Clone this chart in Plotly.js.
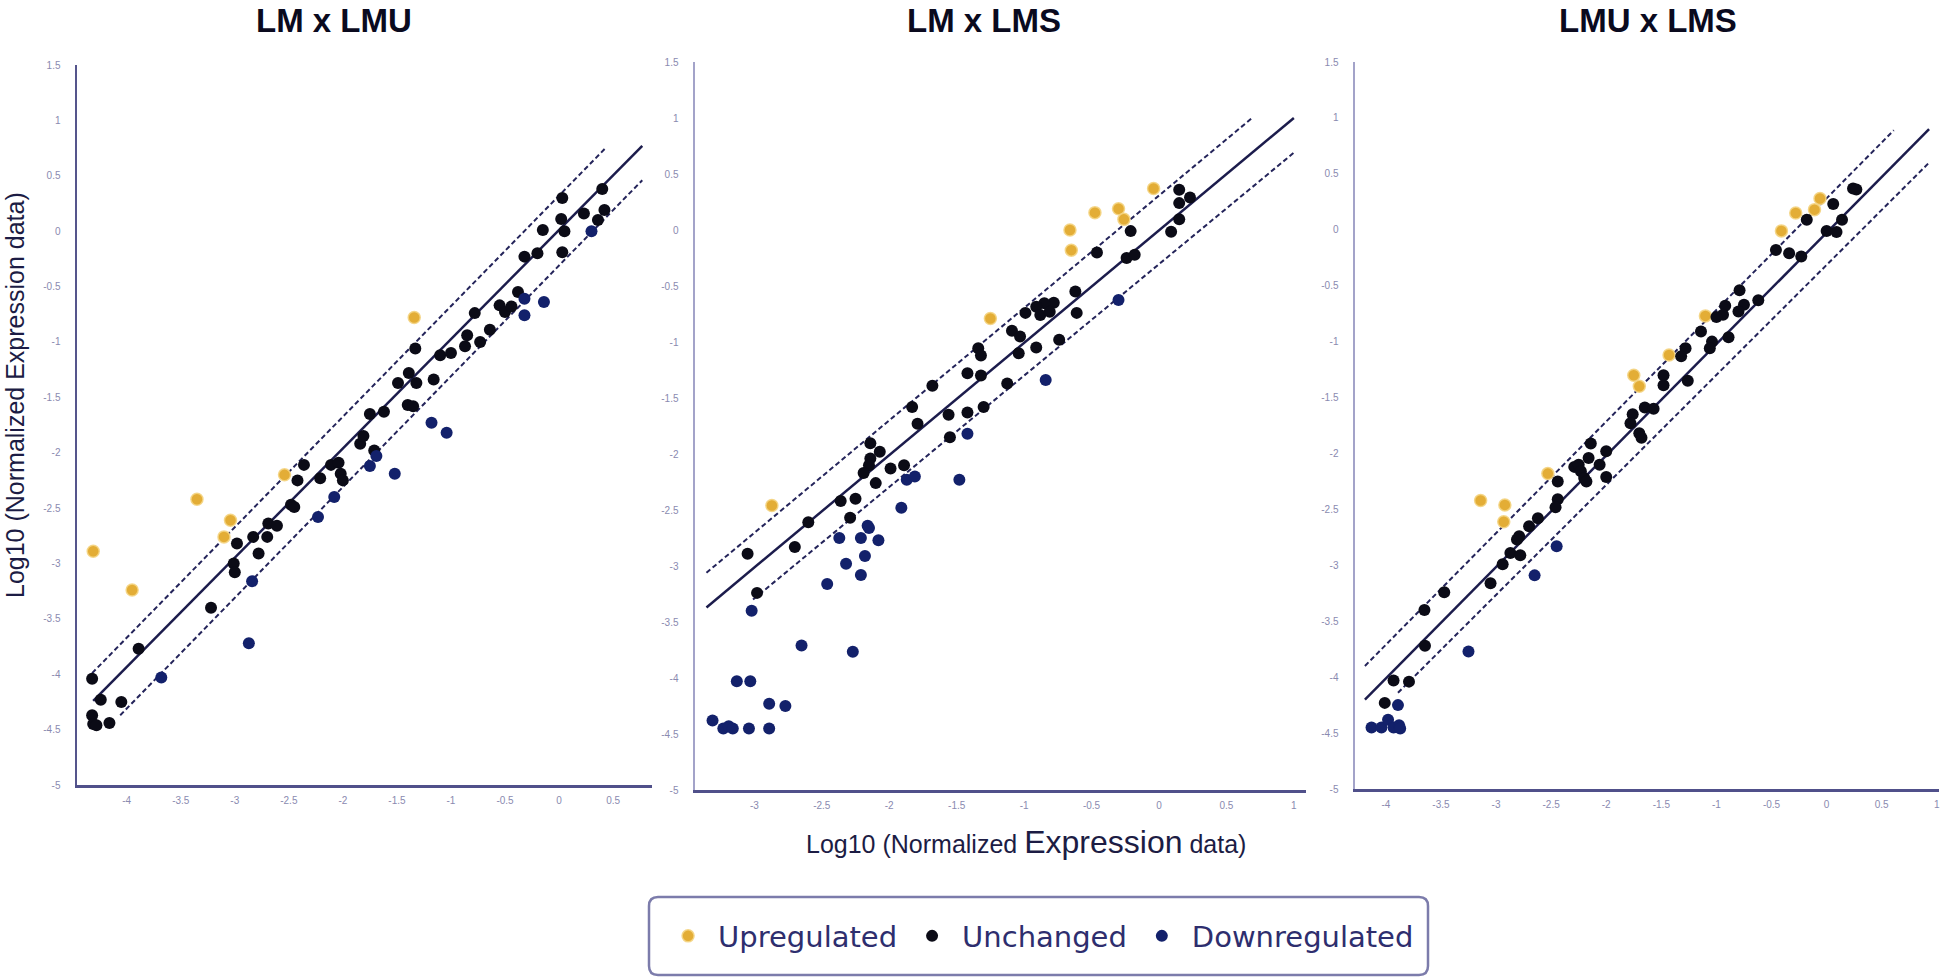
<!DOCTYPE html>
<html>
<head>
<meta charset="utf-8">
<script src="https://cdn.plot.ly/plotly-3.0.1.min.js"></script>
<style>
  html, body { margin: 0; padding: 0; background: #ffffff; }
  #chart { width: 1946px; height: 979px; }
</style>
</head>
<body>
<div id="chart"></div>
<script>
// ---------- data (log10 normalized expression) ----------
const panelTitles = ["LM x LMU", "LM x LMS", "LMU x LMS"];
const categoryNames = ["Upregulated", "Unchanged", "Downregulated"];

// LM x LMU
const p1UpX = [-1.34, -4.31, -3.95, -3.35, -3.04, -3.10, -2.54];
const p1UpY = [-0.78, -2.89, -3.24, -2.42, -2.61, -2.76, -2.20];
const p1UnX = [-1.33, -1.49, -1.39, -1.32, -1.16, -1.10, -1.00, -0.87, -0.85, -0.73, -0.78, -0.64, -0.55, -0.50, -0.44, -0.38,
  -0.32, -0.20, -0.15, 0.03, 0.02, 0.05, 0.03, 0.23, 0.40, 0.42, 0.36, -1.75, -1.62, -1.40, -1.35,
  -4.32, -4.24, -4.32, -4.31, -4.28, -4.16, -4.05, -3.89, -3.22, -3.01, -3.00, -2.98, -2.83, -2.78, -2.70, -2.69,
  -2.61, -2.48, -2.45, -2.42, -2.36, -2.21, -2.11, -2.04, -2.02, -2.00, -1.84, -1.81, -1.71];
const p1UnY = [-1.06, -1.37, -1.28, -1.37, -1.34, -1.12, -1.10, -1.04, -0.94, -1.00, -0.74, -0.89, -0.67, -0.73, -0.68, -0.55,
  -0.23, -0.20, 0.01, 0.30, 0.11, 0.00, -0.19, 0.16, 0.38, 0.19, 0.10, -1.65, -1.63, -1.57, -1.58,
  -4.04, -4.23, -4.37, -4.45, -4.46, -4.44, -4.25, -3.77, -3.40, -3.00, -3.08, -2.82, -2.76, -2.91, -2.76, -2.64,
  -2.66, -2.47, -2.49, -2.25, -2.11, -2.23, -2.11, -2.09, -2.19, -2.25, -1.92, -1.85, -1.98];
const p1DnX = [-0.32, -0.14, -0.32, 0.30, -3.68, -2.84, -2.87, -2.23, -2.08, -1.69, -1.75, -1.52, -1.18, -1.04];
const p1DnY = [-0.61, -0.64, -0.76, 0.00, -4.03, -3.16, -3.72, -2.58, -2.40, -2.03, -2.12, -2.19, -1.73, -1.82];

// LM x LMS
const p2UpX = [-1.25, -0.66, -0.65, -0.475, -0.30, -0.26, -0.04, -2.87];
const p2UpY = [-0.79, 0.00, -0.18, 0.155, 0.19, 0.095, 0.37, -2.46];
const p2UnX = [-0.46, -0.21, -0.24, -0.18, 0.09, 0.15, 0.15, 0.23, 0.15, -0.62, -0.61, -0.78, -0.85, -0.91, -0.88, -0.81,
  -0.99, -0.74, -0.91, -1.09, -1.03, -1.04, -1.125, -1.34, -1.32, -1.42, -1.32, -1.68, -1.83, -1.56, -1.42, -1.30,
  -1.79, -1.55, -2.14, -2.07, -2.14, -2.15, -2.19, -2.10, -1.99, -1.89, -3.05, -2.98, -2.70, -2.60, -2.36, -2.25, -2.29];
const p2UnY = [-0.20, -0.01, -0.25, -0.22, -0.015, 0.36, 0.24, 0.29, 0.095, -0.55, -0.74, -0.65, -0.655, -0.685, -0.76, -0.73,
  -0.74, -0.98, -1.05, -0.90, -0.95, -1.10, -1.37, -1.055, -1.12, -1.28, -1.30, -1.39, -1.58, -1.65, -1.63, -1.58,
  -1.73, -1.85, -1.905, -1.98, -2.04, -2.10, -2.17, -2.26, -2.13, -2.10, -2.89, -3.24, -2.83, -2.61, -2.42, -2.40, -2.57];
const p2DnX = [-0.30, -0.84, -1.42, -1.87, -1.81, -1.48, -1.91, -3.02, -2.37, -2.21, -2.16, -2.15, -2.08, -2.18, -2.32,
  -2.21, -2.46, -2.65, -2.27, -3.13, -3.03, -2.89, -2.77, -3.31, -3.23, -3.19, -3.16, -3.04, -2.89];
const p2DnY = [-0.625, -1.34, -1.82, -2.23, -2.20, -2.23, -2.48, -3.40, -2.75, -2.75, -2.64, -2.66, -2.77, -2.91, -2.98,
  -3.08, -3.16, -3.71, -3.765, -4.03, -4.03, -4.23, -4.25, -4.38, -4.45, -4.43, -4.45, -4.45, -4.45];

// LMU x LMS
const p3UpX = [-0.06, -0.11, -0.28, -0.41, -1.10, -1.43, -1.75, -1.70, -2.53, -3.14, -2.92, -2.93];
const p3UpY = [0.28, 0.18, 0.15, -0.01, -0.77, -1.12, -1.30, -1.40, -2.18, -2.42, -2.46, -2.61];
const p3UnX = [-0.18, 0.06, 0.24, 0.27, 0.14, 0.00, 0.09, -0.46, -0.34, -0.23, -0.79, -0.62, -0.75, -0.80, -0.92, -0.94,
  -1.00, -0.89, -1.04, -1.06, -1.14, -1.28, -1.32, -1.26, -1.48, -1.48, -1.65, -1.57, -1.76, -1.78, -1.70, -1.68,
  -2.14, -2.16, -2.00, -2.06, -2.00, -2.29, -2.25, -2.23, -2.20, -2.18, -2.44, -2.44, -2.46, -2.62, -2.70, -2.79,
  -2.81, -2.87, -2.78, -2.94, -3.05, -3.47, -3.65, -3.645, -3.93, -3.79, -4.01];
const p3UnY = [0.09, 0.23, 0.37, 0.36, 0.09, -0.01, -0.02, -0.18, -0.21, -0.24, -0.54, -0.63, -0.67, -0.73, -0.68, -0.76,
  -0.78, -0.96, -1.00, -1.06, -0.91, -1.06, -1.13, -1.35, -1.30, -1.39, -1.59, -1.60, -1.65, -1.73, -1.82, -1.86,
  -1.91, -2.04, -1.98, -2.10, -2.21, -2.12, -2.10, -2.16, -2.22, -2.25, -2.25, -2.41, -2.48, -2.58, -2.65, -2.74,
  -2.77, -2.89, -2.91, -2.99, -3.16, -3.24, -3.40, -3.72, -4.03, -4.04, -4.23];
const p3DnX = [-2.45, -2.65, -3.25, -3.89, -4.13, -4.04, -3.98, -3.93, -3.88, -3.87];
const p3DnY = [-2.83, -3.09, -3.77, -4.25, -4.45, -4.45, -4.38, -4.45, -4.43, -4.46];

// reference lines: [upper dashed, identity, lower dashed]
const p1LineX = [[-4.32, 0.44], [-4.31, 0.77], [-4.06, 0.77]];
const p1LineY = [[-3.99, 0.76], [-4.24, 0.77], [-4.37, 0.46]];
const p2LineX = [[-3.355, 0.69], [-3.355, 1.0], [-3.01, 1.0]];
const p2LineY = [[-3.06, 1.0], [-3.37, 1.0], [-3.30, 0.69]];
const p3LineX = [[-4.19, 0.61], [-4.19, 0.93], [-3.89, 0.93]];
const p3LineY = [[-3.90, 0.89], [-4.20, 0.90], [-4.14, 0.60]];

// axis ticks
const yTicks = [-5, -4.5, -4, -3.5, -3, -2.5, -2, -1.5, -1, -0.5, 0, 0.5, 1, 1.5];
const p1XTicks = [-4, -3.5, -3, -2.5, -2, -1.5, -1, -0.5, 0, 0.5];
const p2XTicks = [-3, -2.5, -2, -1.5, -1, -0.5, 0, 0.5, 1];
const p3XTicks = [-4, -3.5, -3, -2.5, -2, -1.5, -1, -0.5, 0, 0.5, 1];

// ---------- styling ----------
const W = 1946;
const H = 979;
const COLORS = ["#e3ad36", "#0b0b16", "#13216b"];
const TEXT_NAVY = "#2e2e6e";

const panels = [
  { up: [p1UpX, p1UpY], un: [p1UnX, p1UnY], dn: [p1DnX, p1DnY], lx: p1LineX, ly: p1LineY,
    xTicks: p1XTicks, xRange: [-4.46, 0.86], px: [77, 652], py: [65, 785], yLine: "#55558c" },
  { up: [p2UpX, p2UpY], un: [p2UnX, p2UnY], dn: [p2DnX, p2DnY], lx: p2LineX, ly: p2LineY,
    xTicks: p2XTicks, xRange: [-3.44, 1.09], px: [695, 1306], py: [62, 790], yLine: "#a3a3c9" },
  { up: [p3UpX, p3UpY], un: [p3UnX, p3UnY], dn: [p3DnX, p3DnY], lx: p3LineX, ly: p3LineY,
    xTicks: p3XTicks, xRange: [-4.28, 1.02], px: [1355, 1939], py: [62, 789], yLine: "#a3a3c9" },
];

const fmtTick = (v) => String(v); // plain hyphen minus, as in the figure

const traces = [];
const layout = {
  width: W,
  height: H,
  margin: { l: 0, r: 0, t: 0, b: 0 },
  paper_bgcolor: "#ffffff",
  plot_bgcolor: "#ffffff",
  showlegend: true,
  legend: {
    orientation: "h",
    x: 0.5337,
    xanchor: "center",
    y: 0.0439,
    yanchor: "middle",
    bgcolor: "rgba(0,0,0,0)",
    borderwidth: 0,
    itemwidth: 50,
    font: { family: "DejaVu Sans", size: 29, color: TEXT_NAVY },
  },
  annotations: [],
  shapes: [],
};

panels.forEach((p, i) => {
  const n = i === 0 ? "" : String(i + 1);
  const xa = "x" + n;
  const ya = "y" + n;

  // reference lines
  p.lx.forEach((lx, k) => {
    traces.push({
      x: lx,
      y: p.ly[k],
      xaxis: xa,
      yaxis: ya,
      type: "scatter",
      mode: "lines",
      showlegend: false,
      hoverinfo: "skip",
      line: k === 1
        ? { color: "#1c1c4c", width: 2.5 }
        : { color: "#24245a", width: 2, dash: "5px,3px" },
    });
  });

  // points
  [p.up, p.un, p.dn].forEach((series, c) => {
    traces.push({
      x: series[0],
      y: series[1],
      xaxis: xa,
      yaxis: ya,
      type: "scatter",
      mode: "markers",
      name: categoryNames[c],
      legendgroup: categoryNames[c],
      showlegend: i === 0,
      marker: {
        size: 12,
        color: COLORS[c],
        line: c === 0
          ? { color: "rgba(244,212,130,0.9)", width: 1.5 }
          : { width: 0 },
      },
      hovertemplate: categoryNames[c] + "<br>%{x}, %{y}<extra></extra>",
    });
  });

  layout["xaxis" + n] = {
    domain: [p.px[0] / W, p.px[1] / W],
    anchor: ya,
    range: p.xRange,
    showgrid: false,
    zeroline: false,
    showline: true,
    linecolor: "#50508a",
    linewidth: 3,
    ticks: "",
    tickmode: "array",
    tickvals: p.xTicks,
    ticktext: p.xTicks.map(fmtTick),
    ticklabelstandoff: 4,
    tickfont: { family: "Liberation Sans", size: 10, color: "#8a8ab0" },
    fixedrange: true,
  };
  layout["yaxis" + n] = {
    domain: [1 - p.py[1] / H, 1 - p.py[0] / H],
    anchor: xa,
    range: [-5, 1.5],
    showgrid: false,
    zeroline: false,
    showline: true,
    linecolor: p.yLine,
    linewidth: 2.5,
    ticks: "",
    tickmode: "array",
    tickvals: yTicks,
    ticktext: yTicks.map(fmtTick),
    ticklabelstandoff: 12,
    tickfont: { family: "Liberation Sans", size: 10, color: "#8a8ab0" },
    fixedrange: true,
  };

  layout.annotations.push({
    text: "<b>" + panelTitles[i] + "</b>",
    xref: "paper",
    yref: "paper",
    x: [334, 984, 1648][i] / W,
    y: 1,
    xanchor: "center",
    yanchor: "top",
    showarrow: false,
    font: { family: "Liberation Sans", size: 33, color: "#0a0a1e" },
  });
});

// axis titles
layout.annotations.push({
  text: "Log10 (Normalized Expression data)",
  xref: "paper",
  yref: "paper",
  x: 15 / W,
  y: 1 - 395 / H,
  xanchor: "center",
  yanchor: "middle",
  textangle: -90,
  showarrow: false,
  font: { family: "Liberation Sans", size: 25, color: "#1c1c44" },
});
layout.annotations.push({
  text: 'Log10 (Normalized <span style="font-size:32px">Expression</span> data)',
  xref: "paper",
  yref: "paper",
  x: 1026 / W,
  y: 1 - 842 / H,
  xanchor: "center",
  yanchor: "middle",
  showarrow: false,
  font: { family: "Liberation Sans", size: 25, color: "#1c1c44" },
});

// rounded legend frame
const bx0 = 649 / W, bx1 = 1428 / W, by0 = 1 - 975 / H, by1 = 1 - 897 / H;
const rx = 9 / W, ry = 9 / H;
layout.shapes.push({
  type: "path",
  xref: "paper",
  yref: "paper",
  path:
    `M ${bx0 + rx},${by0} L ${bx1 - rx},${by0} Q ${bx1},${by0} ${bx1},${by0 + ry} ` +
    `L ${bx1},${by1 - ry} Q ${bx1},${by1} ${bx1 - rx},${by1} ` +
    `L ${bx0 + rx},${by1} Q ${bx0},${by1} ${bx0},${by1 - ry} ` +
    `L ${bx0},${by0 + ry} Q ${bx0},${by0} ${bx0 + rx},${by0} Z`,
  line: { color: "#7c7cab", width: 2.5 },
  fillcolor: "rgba(0,0,0,0)",
  layer: "below",
});

Plotly.newPlot("chart", traces, layout, { displayModeBar: false, staticPlot: true });
</script>
</body>
</html>
